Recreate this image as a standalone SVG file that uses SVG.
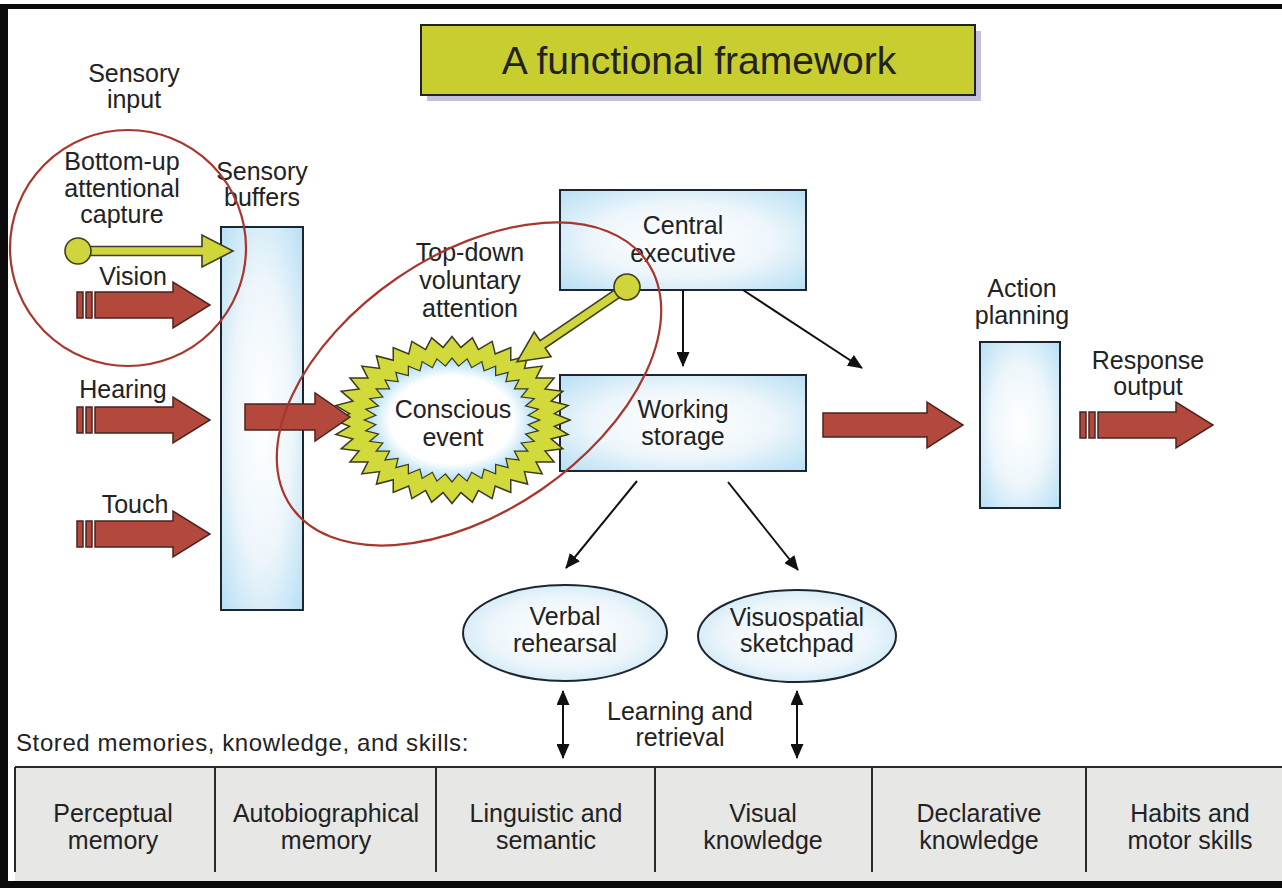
<svg xmlns="http://www.w3.org/2000/svg" xmlns:xlink="http://www.w3.org/1999/xlink" width="1282" height="888" viewBox="0 0 1282 888">
<style>
text{font-family:"Liberation Sans",Arial,sans-serif;fill:#222;}
.lbl{font-size:25px;text-anchor:middle;}
.cell{font-size:25px;text-anchor:middle;}
.box{fill:url(#bluebox);stroke:#1d2630;stroke-width:2;}
.red{fill:#b3493d;stroke:#4a2420;stroke-width:1.5;}
.yel{fill:#cfd53a;stroke:#3e3e22;stroke-width:1.6;}
.ring{fill:none;stroke:#a8362c;stroke-width:2.2;}
.conn{stroke:#111;stroke-width:2;fill:none;}
.div{stroke:#2a2a2a;stroke-width:2;}
</style>
<defs>
<radialGradient id="bluebox" cx="50%" cy="50%" r="72%">
<stop offset="0" stop-color="#ffffff"/>
<stop offset="0.5" stop-color="#eef6fb"/>
<stop offset="1" stop-color="#b4def4"/>
</radialGradient>
<radialGradient id="innerglow" gradientUnits="userSpaceOnUse" cx="0" cy="0" r="88">
<stop offset="0" stop-color="#ffffff"/>
<stop offset="0.7" stop-color="#ffffff"/>
<stop offset="1" stop-color="#a6daf2"/>
</radialGradient>
<polygon id="tri" points="0,-116 100.46,58 -100.46,58" vector-effect="non-scaling-stroke"/>
<polygon id="tri2" points="0,-86 74.48,43 -74.48,43" vector-effect="non-scaling-stroke"/>
<g id="inarrow">
<rect x="0" y="-13" width="6" height="26" class="red"/>
<rect x="9" y="-13" width="6" height="26" class="red"/>
<path d="M18,-13 H96 V-23 L133,0 L96,23 V13 H18 Z" class="red"/>
</g>
<marker id="ah" viewBox="0 0 15 13" markerWidth="15" markerHeight="13" refX="14" refY="6.5" orient="auto-start-reverse" markerUnits="userSpaceOnUse">
<path d="M0,0 L15,6.5 L0,13 Z" fill="#111"/>
</marker>
</defs>

<rect x="0" y="0" width="1282" height="888" fill="#ffffff"/>

<!-- frame -->
<g id="frame" fill="#0a0a0a">
<rect x="0" y="4" width="1282" height="5"/>
<rect x="0" y="4" width="8" height="884"/>
<rect x="0" y="881" width="1282" height="7"/>
</g>

<!-- title -->
<g id="title">
<rect x="427" y="31" width="554" height="70" fill="#8f8cc0" opacity="0.55"/>
<rect x="421" y="25" width="554" height="70" fill="#c8ce30" stroke="#222" stroke-width="2"/>
<text x="699" y="74" font-size="39" text-anchor="middle">A functional framework</text>
</g>

<!-- free labels -->
<g id="sensory-input">
<text class="lbl" x="134" y="82">Sensory</text>
<text class="lbl" x="134" y="108">input</text>
</g>
<g id="bottom-up-label">
<text class="lbl" x="122" y="170">Bottom-up</text>
<text class="lbl" x="122" y="197">attentional</text>
<text class="lbl" x="122" y="223">capture</text>
</g>
<g id="vision-label"><text class="lbl" x="133" y="285">Vision</text></g>
<g id="hearing-label"><text class="lbl" x="123" y="398">Hearing</text></g>
<g id="touch-label"><text class="lbl" x="135" y="513">Touch</text></g>
<g id="top-down-label">
<text class="lbl" x="470" y="261">Top-down</text>
<text class="lbl" x="470" y="289">voluntary</text>
<text class="lbl" x="470" y="317">attention</text>
</g>

<!-- sensory buffers -->
<g id="sensory-buffers">
<rect class="box" x="221" y="227" width="82" height="383"/>
<text class="lbl" x="262" y="180">Sensory</text>
<text class="lbl" x="262" y="206">buffers</text>
</g>

<!-- central executive -->
<g id="central-executive">
<rect class="box" x="560" y="190" width="246" height="100"/>
<text class="lbl" x="683" y="234">Central</text>
<text class="lbl" x="683" y="262">executive</text>
</g>

<!-- working storage -->
<g id="working-storage">
<rect class="box" x="560" y="375" width="246" height="96"/>
<text class="lbl" x="683" y="418">Working</text>
<text class="lbl" x="683" y="445">storage</text>
</g>

<!-- action planning -->
<g id="action-planning">
<rect class="box" x="980" y="342" width="80" height="166"/>
<text class="lbl" x="1022" y="297">Action</text>
<text class="lbl" x="1022" y="324">planning</text>
</g>

<g id="response-output-label">
<text class="lbl" x="1148" y="369">Response</text>
<text class="lbl" x="1148" y="395">output</text>
</g>

<!-- conscious event starburst -->
<g id="conscious-event">
<g transform="translate(452,420) scale(1,0.71)">
<g fill="#d2d93a" stroke="#3a3a1e" stroke-width="3">
<use xlink:href="#tri"/><use xlink:href="#tri" transform="rotate(10)"/><use xlink:href="#tri" transform="rotate(20)"/><use xlink:href="#tri" transform="rotate(30)"/><use xlink:href="#tri" transform="rotate(40)"/><use xlink:href="#tri" transform="rotate(50)"/><use xlink:href="#tri" transform="rotate(60)"/><use xlink:href="#tri" transform="rotate(70)"/><use xlink:href="#tri" transform="rotate(80)"/><use xlink:href="#tri" transform="rotate(90)"/><use xlink:href="#tri" transform="rotate(100)"/><use xlink:href="#tri" transform="rotate(110)"/>
</g>
<g fill="#d2d93a" stroke="none">
<use xlink:href="#tri"/><use xlink:href="#tri" transform="rotate(10)"/><use xlink:href="#tri" transform="rotate(20)"/><use xlink:href="#tri" transform="rotate(30)"/><use xlink:href="#tri" transform="rotate(40)"/><use xlink:href="#tri" transform="rotate(50)"/><use xlink:href="#tri" transform="rotate(60)"/><use xlink:href="#tri" transform="rotate(70)"/><use xlink:href="#tri" transform="rotate(80)"/><use xlink:href="#tri" transform="rotate(90)"/><use xlink:href="#tri" transform="rotate(100)"/><use xlink:href="#tri" transform="rotate(110)"/>
</g>
<g fill="url(#innerglow)" stroke="#3a3a1e" stroke-width="2.5">
<use xlink:href="#tri2"/><use xlink:href="#tri2" transform="rotate(10)"/><use xlink:href="#tri2" transform="rotate(20)"/><use xlink:href="#tri2" transform="rotate(30)"/><use xlink:href="#tri2" transform="rotate(40)"/><use xlink:href="#tri2" transform="rotate(50)"/><use xlink:href="#tri2" transform="rotate(60)"/><use xlink:href="#tri2" transform="rotate(70)"/><use xlink:href="#tri2" transform="rotate(80)"/><use xlink:href="#tri2" transform="rotate(90)"/><use xlink:href="#tri2" transform="rotate(100)"/><use xlink:href="#tri2" transform="rotate(110)"/>
</g>
<g fill="url(#innerglow)" stroke="none">
<use xlink:href="#tri2"/><use xlink:href="#tri2" transform="rotate(10)"/><use xlink:href="#tri2" transform="rotate(20)"/><use xlink:href="#tri2" transform="rotate(30)"/><use xlink:href="#tri2" transform="rotate(40)"/><use xlink:href="#tri2" transform="rotate(50)"/><use xlink:href="#tri2" transform="rotate(60)"/><use xlink:href="#tri2" transform="rotate(70)"/><use xlink:href="#tri2" transform="rotate(80)"/><use xlink:href="#tri2" transform="rotate(90)"/><use xlink:href="#tri2" transform="rotate(100)"/><use xlink:href="#tri2" transform="rotate(110)"/>
</g>
</g>
<text class="lbl" x="453" y="418">Conscious</text>
<text class="lbl" x="453" y="446">event</text>
</g>

<!-- verbal rehearsal / visuospatial -->
<g id="verbal-rehearsal">
<ellipse class="box" cx="565" cy="633" rx="102" ry="48"/>
<text class="lbl" x="565" y="625">Verbal</text>
<text class="lbl" x="565" y="652">rehearsal</text>
</g>
<g id="visuospatial-sketchpad">
<ellipse class="box" cx="797" cy="636" rx="99" ry="46"/>
<text class="lbl" x="797" y="626">Visuospatial</text>
<text class="lbl" x="797" y="652">sketchpad</text>
</g>

<g id="learning-label">
<text class="lbl" x="680" y="720">Learning and</text>
<text class="lbl" x="680" y="746">retrieval</text>
</g>

<!-- memory table -->
<g id="stored-memories">
<text x="16" y="751" font-size="24" letter-spacing="0.6">Stored memories, knowledge, and skills:</text>
<rect x="15" y="767" width="1267" height="114" fill="#e7e7e5"/>
<line class="div" x1="15" y1="767" x2="1282" y2="767" stroke-width="3"/>
<line class="div" x1="15" y1="767" x2="15" y2="872"/>
<line class="div" x1="215" y1="767" x2="215" y2="872"/>
<line class="div" x1="436" y1="767" x2="436" y2="872"/>
<line class="div" x1="655" y1="767" x2="655" y2="872"/>
<line class="div" x1="872" y1="767" x2="872" y2="872"/>
<line class="div" x1="1086" y1="767" x2="1086" y2="872"/>
</g>
<g id="perceptual-memory"><text class="cell" x="113" y="822">Perceptual</text><text class="cell" x="113" y="849">memory</text></g>
<g id="autobiographical-memory"><text class="cell" x="326" y="822">Autobiographical</text><text class="cell" x="326" y="849">memory</text></g>
<g id="linguistic-semantic"><text class="cell" x="546" y="822">Linguistic and</text><text class="cell" x="546" y="849">semantic</text></g>
<g id="visual-knowledge"><text class="cell" x="763" y="822">Visual</text><text class="cell" x="763" y="849">knowledge</text></g>
<g id="declarative-knowledge"><text class="cell" x="979" y="822">Declarative</text><text class="cell" x="979" y="849">knowledge</text></g>
<g id="habits-motor"><text class="cell" x="1190" y="822">Habits and</text><text class="cell" x="1190" y="849">motor skills</text></g>

<!-- connectors -->
<g id="connectors">
<use xlink:href="#inarrow" transform="translate(77,305)"/>
<use xlink:href="#inarrow" transform="translate(77,420)"/>
<use xlink:href="#inarrow" transform="translate(77,534)"/>
<use xlink:href="#inarrow" transform="translate(1080,425)"/>
<path class="red" d="M245,404 H315 V393 L350,417 L315,441 V430 H245 Z"/>
<path class="red" d="M823,413 H927 V402 L963,425 L927,448 V437 H823 Z"/>
<line class="conn" x1="683" y1="290" x2="683" y2="366" marker-end="url(#ah)"/>
<line class="conn" x1="743" y1="290" x2="862" y2="368" marker-end="url(#ah)"/>
<line class="conn" x1="637" y1="481" x2="566" y2="568" marker-end="url(#ah)"/>
<line class="conn" x1="728" y1="482" x2="798" y2="570" marker-end="url(#ah)"/>
<line class="conn" x1="563" y1="691" x2="563" y2="758" marker-start="url(#ah)" marker-end="url(#ah)"/>
<line class="conn" x1="797" y1="691" x2="797" y2="758" marker-start="url(#ah)" marker-end="url(#ah)"/>
<g transform="translate(78,251)">
<path class="yel" d="M10,-4.5 H124 V-16 L155,0 L124,16 V4.5 H10 Z"/>
<circle class="yel" cx="0" cy="0" r="13"/>
</g>
<g transform="translate(627,287) rotate(145.8)">
<path class="yel" d="M10,-4.5 H102 V-15 L133,0 L102,15 V4.5 H10 Z"/>
<circle class="yel" cx="0" cy="0" r="13"/>
</g>
</g>

<!-- attention ellipses -->
<g id="attention-rings">
<circle class="ring" cx="128" cy="248" r="118"/>
<ellipse class="ring" cx="469" cy="384" rx="216" ry="128" transform="rotate(-34.5 469 384)"/>
</g>
</svg>
